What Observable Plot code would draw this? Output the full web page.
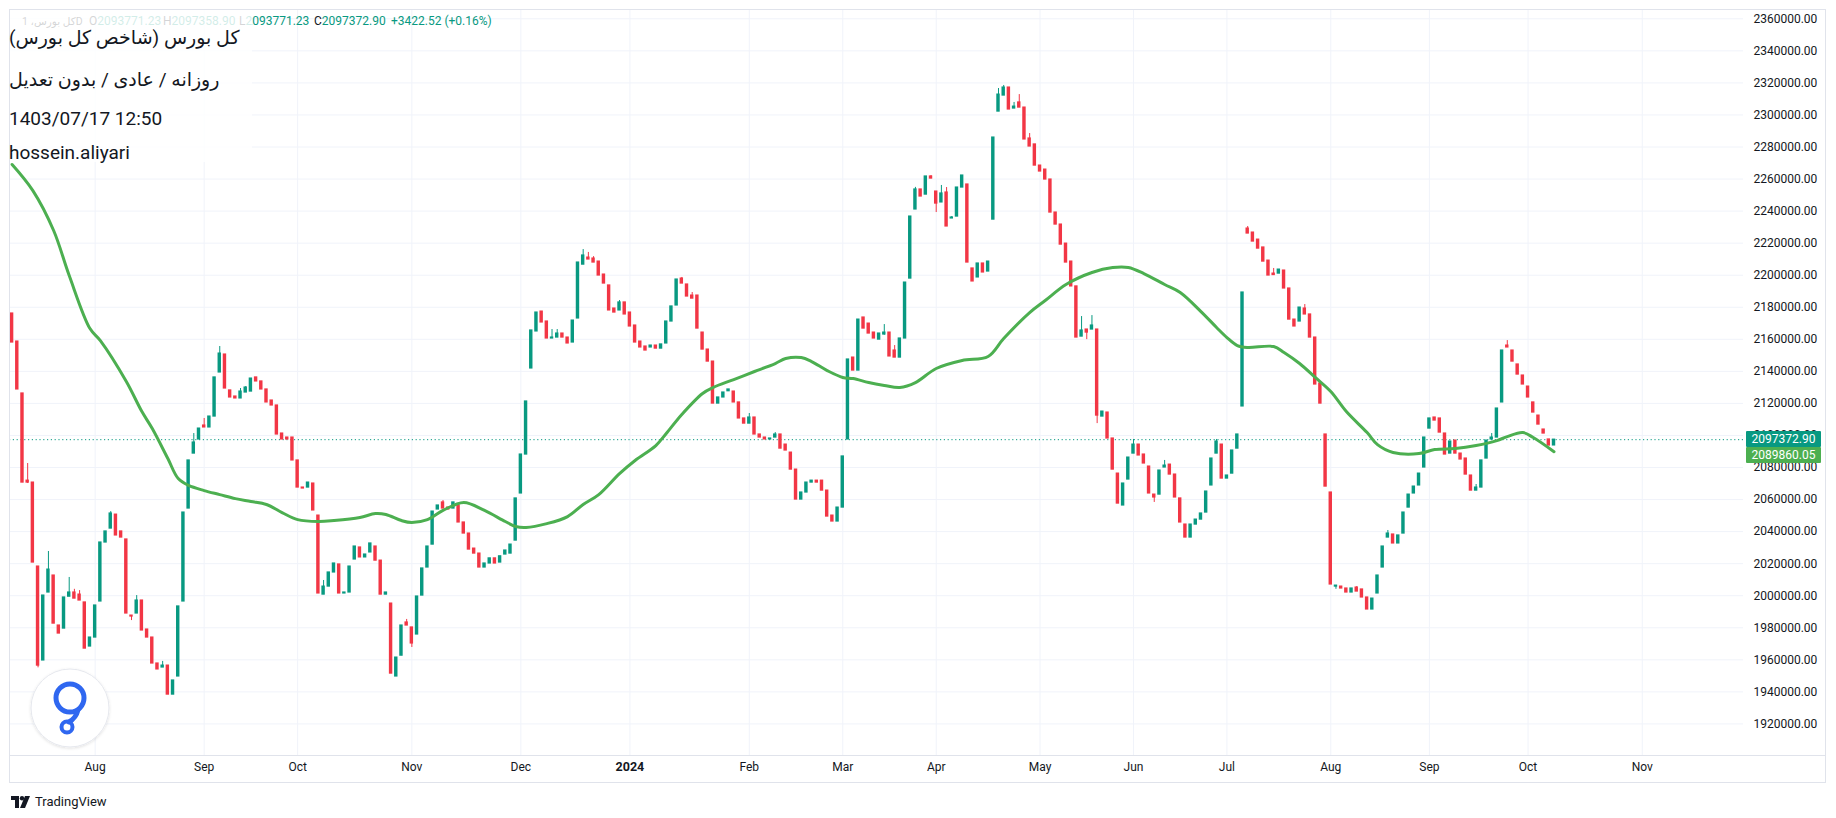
<!DOCTYPE html>
<html><head><meta charset="utf-8">
<script src="https://cdn.jsdelivr.net/npm/d3@7"></script>
<script src="https://cdn.jsdelivr.net/npm/@observablehq/plot@0.6"></script>
<style>
html,body{margin:0;padding:0;background:#fff;}
#wrap{position:relative;width:1836px;height:818px;overflow:hidden;font-family:Roboto,"Noto Sans","DejaVu Sans",sans-serif;color:#131722;}
#chart{position:absolute;left:0;top:0;}
.frame{position:absolute;left:9px;top:9px;width:1817px;height:774px;border:1px solid #e0e3eb;box-sizing:border-box;pointer-events:none;}
.sep{position:absolute;left:9px;top:755px;width:1817px;height:1px;background:#e0e3eb;}
.lg{position:absolute;top:15px;font-size:12px;line-height:13px;white-space:pre;}
.lg .v{color:#089981;}
.shade{position:absolute;left:10px;top:10px;width:242px;height:152px;background:rgba(255,255,255,0.82);}
.tl{position:absolute;left:9px;font-size:19px;line-height:20px;white-space:pre;color:#131722;}
.pb{position:absolute;left:1746px;width:75px;height:16px;color:#fff;font-size:12px;line-height:16px;text-align:center;border-radius:1px;}
.tv{position:absolute;left:11px;top:794px;font-size:13px;line-height:16px;color:#131722;display:flex;align-items:center;gap:4px;}
</style></head>
<body>
<div id="wrap">
  <div id="chart"></div>
  <div class="frame"></div>
  <div class="sep"></div>
</div>
<script>
// ---------- DATA ----------
// daily candles: [open, high, low, close], one row per trading bar (bar index = row index)
const ohlc = [
[2176100,2176100,2158000,2158000],[2158600,2158600,2128700,2128700],[2126200,2126200,2070600,2070600],[2071800,2082500,2070000,2070600],
[2070600,2070600,2020700,2020700],[2018200,2018200,1955000,1956400],[1959600,2000100,1959600,2000100],[2002000,2027600,2002000,2016300],
[2012600,2012600,1982600,1982600],[1981400,1981400,1976400,1976400],[1979500,1998900,1979500,1998900],[1999400,2011400,1999400,2002000],
[2002000,2004000,1998200,1998200],[2000700,2003200,1997000,1997000],[1995800,1995800,1967000,1967000],[1968300,1973900,1968300,1973900],
[1973900,1993900,1973900,1993900],[1996400,2033200,1996400,2033200],[2033200,2040100,2033200,2040100],[2041900,2052500,2041900,2051300],
[2050600,2050600,2037600,2037600],[2040100,2040100,2036300,2036300],[2035100,2035100,1988900,1988900],[1987600,1987600,1984500,1987000],
[1988900,2000100,1988900,1997000],[1997000,1997000,1978300,1978300],[1978900,1978900,1973900,1973900],[1973900,1973900,1957700,1957700],
[1957700,1957700,1954000,1954000],[1955200,1959000,1955200,1956400],[1956400,1956400,1938300,1938300],[1938300,1947100,1938300,1947100],
[1949600,1993300,1949600,1993300],[1996400,2051900,1996400,2051900],[2054400,2084400,2054400,2084400],[2088700,2101200,2088700,2095600],
[2097500,2104300,2097500,2104300],[2106200,2110600,2105000,2105000],[2105000,2111800,2105000,2111800],[2111800,2136200,2111800,2136200],
[2139300,2155500,2139300,2151100],[2150500,2150500,2129300,2129300],[2128100,2128100,2123700,2123700],[2124300,2124300,2123100,2123100],
[2123100,2129300,2123100,2127400],[2126800,2130500,2126800,2129900],[2127400,2135500,2127400,2135500],[2136200,2136200,2133700,2133700],
[2133700,2133700,2128700,2128700],[2128700,2128700,2120600,2120600],[2121800,2121800,2118700,2118700],[2118700,2118700,2100600,2100600],
[2101200,2101200,2097500,2097500],[2098700,2098700,2097500,2097500],[2098700,2098700,2084400,2084400],[2084400,2084400,2067500,2067500],
[2067500,2067500,2066900,2066900],[2067500,2070600,2067500,2070600],[2070000,2070000,2053200,2053200],[2050000,2050000,2001400,2001400],
[2000700,2009500,2000700,2005700],[2005700,2014500,2005700,2014500],[2014500,2020100,2014500,2020100],[2019500,2019500,2001400,2001400],
[2001400,2002000,2001400,2002000],[2002000,2018200,2002000,2018200],[2022600,2030700,2022600,2030700],[2030100,2030100,2023900,2023900],
[2023900,2025700,2023900,2025700],[2027000,2032600,2027000,2032600],[2030700,2030700,2021900,2021900],[2021900,2021900,2000700,2000700],
[2000700,2002000,2000700,2002000],[1995100,1995100,1951400,1951400],[1949600,1961400,1949600,1961400],[1962600,1981400,1962600,1981400],
[1983300,1985200,1981400,1981400],[1980200,1980200,1967700,1970200],[1975800,1999500,1975800,1999500],[2000100,2017000,2000100,2017000],
[2017600,2030700,2017600,2030700],[2031900,2052500,2031900,2052500],[2053800,2056300,2053800,2056300],[2058200,2059400,2054400,2054400],
[2055000,2055000,2053800,2053800],[2054400,2058200,2054400,2058200],[2056300,2056300,2045700,2045700],[2045700,2045700,2038800,2038800],
[2038800,2038800,2028800,2028800],[2029400,2029400,2026300,2026300],[2026300,2026300,2017600,2017600],[2017600,2020100,2017600,2020100],
[2020100,2023300,2020100,2023300],[2023300,2023300,2020100,2020100],[2020700,2024600,2020700,2024600],[2025700,2028200,2025700,2028200],
[2026300,2031900,2026300,2031900],[2034400,2060700,2034400,2060700],[2063800,2088100,2063800,2088100],[2088100,2121200,2088100,2121200],
[2141800,2165500,2141800,2165500],[2164900,2176700,2164900,2176700],[2177300,2177300,2170500,2170500],[2171100,2171100,2160500,2160500],
[2160500,2166100,2160500,2161100],[2161100,2166100,2161100,2163600],[2163600,2163600,2161100,2161100],[2161100,2161100,2157400,2157400],
[2158000,2171700,2158000,2171700],[2173000,2207900,2173000,2207900],[2206600,2216000,2206600,2212300],[2211000,2214200,2209800,2209800],
[2210400,2211600,2207900,2207900],[2208500,2208500,2199800,2199800],[2200400,2200400,2194800,2194800],[2193600,2193600,2178000,2178000],
[2179200,2179200,2176700,2176700],[2178000,2184200,2178000,2183000],[2183000,2183000,2175500,2175500],[2176700,2176700,2168000,2168000],
[2168600,2168600,2158000,2158000],[2158600,2158600,2154900,2154900],[2155500,2155500,2153000,2153000],[2154900,2156100,2154900,2156100],
[2156100,2156100,2154200,2154200],[2154200,2156800,2154200,2156800],[2157400,2171100,2157400,2171100],[2171100,2180500,2171100,2180500],
[2181100,2197300,2181100,2197300],[2197900,2198600,2194800,2194800],[2194200,2194200,2186700,2186700],[2187300,2189200,2185400,2185400],
[2187300,2187300,2166700,2166700],[2164200,2164200,2153600,2153600],[2153600,2153600,2146100,2146100],[2146100,2146100,2119900,2119900],
[2119900,2123700,2119900,2123700],[2123700,2126800,2123700,2126800],[2127600,2128700,2127600,2128700],[2127400,2127400,2120600,2120600],
[2120600,2120600,2110600,2110600],[2110600,2110600,2107400,2107400],[2107400,2113700,2107400,2111200],[2111200,2111200,2100600,2100600],
[2100600,2100600,2098700,2098700],[2098700,2098700,2097500,2097500],[2097500,2098100,2097500,2098100],[2098700,2101800,2098700,2100600],
[2100600,2100600,2091800,2091800],[2094300,2094300,2090600,2090600],[2089300,2089300,2078700,2078700],[2078700,2078700,2060000,2060000],
[2060000,2064400,2060000,2064400],[2064400,2070600,2064400,2070600],[2070600,2071800,2070600,2071800],[2071800,2071800,2070600,2070600],
[2071800,2071800,2065600,2065600],[2065600,2065600,2049400,2049400],[2050000,2050000,2046300,2046300],[2046300,2055000,2046300,2055000],
[2055000,2086900,2055000,2086900],[2097500,2147400,2097500,2147400],[2148600,2148600,2140500,2140500],[2140500,2172300,2140500,2172300],
[2173600,2173600,2166700,2166700],[2169800,2169800,2163600,2163600],[2164200,2164200,2160500,2160500],[2159800,2163600,2159800,2163600],
[2163000,2169200,2162500,2164200],[2164200,2164200,2149300,2149300],[2153000,2156100,2148600,2148600],[2148600,2160500,2148600,2160500],
[2160500,2195400,2160500,2195400],[2197900,2236600,2197900,2236600],[2241000,2254800,2241000,2253500],[2253500,2253500,2249100,2249100],
[2250300,2261600,2250300,2261600],[2261600,2262200,2260300,2260300],[2252200,2252200,2239100,2244700],[2245400,2256000,2245400,2251000],
[2251600,2254700,2230400,2230400],[2235400,2236600,2235400,2236000],[2236600,2254700,2236600,2254700],[2254700,2262200,2254700,2262200],
[2256600,2256600,2207900,2207900],[2204200,2204200,2196100,2196100],[2198600,2207300,2198600,2207300],[2207300,2207300,2201700,2201700],
[2202300,2208500,2202300,2208500],[2234700,2285900,2234700,2285900],[2302100,2316500,2302100,2312700],[2312100,2318400,2312100,2317100],
[2317100,2317100,2303400,2303400],[2304000,2307800,2304000,2305200],[2307800,2312700,2304600,2304600],[2304600,2304600,2284700,2284700],
[2285300,2288400,2280300,2280300],[2281600,2281600,2268400,2268400],[2268400,2268400,2264700,2264700],[2265900,2265900,2259700,2259700],
[2259700,2259700,2239100,2239100],[2239100,2239100,2231600,2231600],[2231600,2231600,2219100,2219100],[2219700,2219700,2207900,2207900],
[2208500,2208500,2193000,2193000],[2193000,2193000,2161100,2161100],[2161700,2174200,2161700,2165500],[2166100,2166100,2159800,2164200],
[2166100,2174800,2166100,2168600],[2166100,2166100,2107400,2112400],[2111800,2114900,2111800,2114900],[2114300,2114300,2098100,2098100],
[2098100,2098100,2078700,2078700],[2076200,2076200,2057500,2057500],[2056300,2070000,2056300,2070000],[2072500,2086200,2072500,2086200],
[2088700,2097500,2088700,2094300],[2094300,2094300,2087500,2087500],[2088100,2088100,2082500,2082500],[2080600,2080600,2063800,2063800],
[2063100,2063100,2058200,2061300],[2063100,2078100,2063100,2078100],[2080000,2084400,2080000,2081200],[2081800,2081800,2075600,2075600],
[2075600,2075600,2061300,2061300],[2060700,2060700,2045700,2045700],[2044400,2044400,2036300,2036300],[2036300,2044400,2036300,2044400],
[2044400,2047500,2044400,2047500],[2047500,2051300,2047500,2051300],[2051900,2065000,2051900,2065000],[2068800,2085600,2068800,2085600],
[2088700,2097500,2088700,2096200],[2094300,2094300,2073100,2073100],[2073100,2075000,2073100,2075000],[2076200,2090600,2076200,2090600],
[2091800,2100600,2091800,2100600],[2118100,2189200,2118100,2189200],[2229100,2230400,2226000,2226000],[2226600,2226600,2221000,2221000],
[2222200,2222200,2216600,2216600],[2217300,2217300,2208500,2208500],[2209100,2209100,2199800,2199800],[2201000,2204200,2200100,2200100],
[2201000,2203500,2201000,2203500],[2202900,2202900,2191700,2191700],[2191700,2191700,2172300,2172300],[2172300,2172300,2168000,2168000],
[2171100,2179800,2171100,2179800],[2179200,2181700,2175500,2175500],[2175500,2175500,2161100,2161100],[2161100,2161100,2131800,2131800],
[2132400,2132400,2119900,2119900],[2100600,2100600,2068100,2068100],[2064400,2064400,2007000,2007000],[2005700,2006300,2004000,2006300],
[2005700,2005700,2004500,2004500],[2004500,2004500,2002000,2002000],[2002000,2004500,2002000,2004500],[2005100,2005700,2002600,2002600],
[2003900,2003900,1998900,1998900],[1998900,1998900,1991400,1991400],[1991400,1998200,1991400,1998200],[2001400,2012600,2001400,2012600],
[2017600,2030700,2017600,2030700],[2036300,2040700,2036300,2038800],[2038200,2038200,2032600,2032600],[2032600,2037600,2032600,2037600],
[2038800,2051900,2038800,2051900],[2055000,2063100,2055000,2063100],[2063800,2068100,2063800,2068100],[2068800,2076200,2068800,2076200],
[2080000,2098700,2080000,2098700],[2104300,2110600,2104300,2110600],[2111200,2111200,2109300,2109300],[2110600,2110600,2101800,2101800],
[2101200,2101200,2088100,2088100],[2088700,2096200,2088700,2096200],[2096800,2096800,2088700,2088700],[2088700,2088700,2085000,2085000],
[2085600,2085600,2075600,2075600],[2075000,2075000,2065600,2065600],[2065600,2069400,2065600,2067500],[2067500,2084400,2067500,2084400],
[2085600,2096800,2085600,2096800],[2097500,2101200,2097500,2098700],[2098700,2116800,2098700,2116800],[2120600,2153000,2120600,2153000],
[2156100,2159200,2154900,2154900],[2153000,2153000,2146100,2146100],[2144300,2144300,2138000,2138000],[2137400,2137400,2131800,2131800],
[2130500,2130500,2123700,2123700],[2120600,2120600,2114300,2114300],[2112400,2112400,2106800,2106800],[2103700,2103700,2101200,2101200],
[2097500,2097500,2093700,2093700],[2093771.23,2097372.90,2093771.23,2097372.90]
];

// moving average (green line), read at bar indices
const maBars = [0,4,8,11,15,17,22,25,27,30,32,34,37,40,43,46,49,52,55,59,62,67,70,72,75,77,80,83,87,91,95,97,99,103,107,110,113,117,120,124,126,129,133,135,139,143,147,149,152,154,157,160,162,165,168,171,174,178,183,188,191,196,199,203,208,212,215,218,222,225,229,232,234,236,238,243,245,248,251,254,257,261,263,266,271,274,278,282,286,288,291,293,297];
const maValues = [2269100,2252800,2227900,2199800,2166700,2159200,2133700,2114900,2104300,2085600,2073100,2068800,2065600,2063100,2060600,2058800,2056900,2051900,2047500,2046300,2046900,2048800,2051300,2050700,2046900,2045700,2047500,2053200,2058200,2053200,2046300,2043200,2042600,2045000,2049400,2056900,2063100,2076200,2084400,2093700,2101200,2113100,2126200,2129900,2134900,2139900,2144900,2148000,2148600,2146100,2140500,2136200,2135500,2133000,2131200,2129900,2133000,2141800,2146800,2149300,2160500,2176700,2184200,2194200,2201700,2204800,2204800,2201000,2194200,2189200,2177300,2167400,2161100,2156100,2154900,2155500,2151800,2144900,2136200,2127400,2114900,2101800,2094300,2089400,2088700,2091200,2091800,2093700,2096800,2099300,2101800,2098700,2089860.05];

// x-axis month labels and the bar where each month begins
const monthLabels = ["Aug","Sep","Oct","Nov","Dec","2024","Feb","Mar","Apr","May","Jun","Jul","Aug","Sep","Oct","Nov"];
const monthBars = [16,37,55,77,98,119,142,160,178,198,216,234,254,273,292,314];

// y-axis ticks
const yTicks = [1920000,1940000,1960000,1980000,2000000,2020000,2040000,2060000,2080000,2100000,2120000,2140000,2160000,2180000,2200000,2220000,2240000,2260000,2280000,2300000,2320000,2340000,2360000];

const lastClose = 2097372.90;
const lastMA = 2089860.05;

// header texts
const titleLines = ["کل بورس (شاخص کل بورس)", "روزانه / عادی / بدون تعدیل", "1403/07/17 12:50", "hossein.aliyari"];
const legendSymbol = "کل بورس، 1D";
const legendItems = [["O","2093771.23"],["H","2097358.90"],["L","2093771.23"],["C","2097372.90"],["","+3422.52 (+0.16%)"]];

// ---------- CHART ----------
const UP = "#089981", DOWN = "#f23645", MA = "#4caf50", GRID = "#f0f3fa";
const candles = ohlc.map((r, i) => ({i, open: r[0], high: r[1], low: r[2], close: r[3]}));
const ma = maBars.map((b, k) => ({bar: b, value: maValues[k]}));
const months = monthLabels.map((l, k) => ({label: l, bar: monthBars[k]}));
const col = d => d.close >= d.open ? UP : DOWN;

const chart = Plot.plot({
  width: 1836, height: 818,
  marginLeft: 9, marginRight: 93, marginTop: 9, marginBottom: 63,
  x: {type: "linear", domain: [-0.5, 333.5], axis: null},
  y: {type: "linear", domain: [1900300, 2365800], axis: null},
  style: {background: "transparent", fontFamily: "Roboto, 'Noto Sans', sans-serif", overflow: "visible"},
  marks: [
    Plot.ruleY(yTicks, {stroke: GRID, strokeWidth: 1}),
    Plot.ruleX(monthBars, {stroke: GRID, strokeWidth: 1}),
    Plot.ruleY([lastClose], {stroke: UP, strokeWidth: 1, strokeDasharray: "1.2,2.6"}),
    Plot.ruleX(candles, {x: "i", y1: "low", y2: "high", stroke: col, strokeWidth: 1}),
    Plot.rect(candles, {x1: d => d.i - 0.33, x2: d => d.i + 0.33, y1: "open", y2: "close", fill: col, insetTop: -0.6, insetBottom: -0.6}),
    Plot.line(ma, {x: "bar", y: "value", stroke: MA, strokeWidth: 3, curve: "catmull-rom", strokeLinejoin: "round", strokeLinecap: "round"}),
    Plot.axisY(yTicks, {anchor: "right", tickSize: 0, tickPadding: 10, label: null, fontSize: 12, fill: "#131722", tickFormat: d => d.toFixed(2)}),
    Plot.text(months.filter(d => d.label !== "2024"), {x: "bar", text: "label", frameAnchor: "bottom", dy: 15, fontSize: 12, fill: "#131722"}),
    Plot.text(months.filter(d => d.label === "2024"), {x: "bar", text: "label", frameAnchor: "bottom", dy: 15, fontSize: 12.5, fontWeight: "bold", fill: "#131722"})
  ]
});
document.getElementById("chart").appendChild(chart);

const wrap = document.getElementById("wrap");
const ys = chart.scale("y");

// price boxes on the right axis
const yc = ys.apply(lastClose);
const ym = ys.apply(lastMA);
function box(text, bg, top) {
  const b = document.createElement("div");
  b.className = "pb"; b.style.background = bg; b.style.top = top + "px"; b.textContent = text;
  wrap.appendChild(b);
}
box(lastClose.toFixed(2), UP, yc - 8);
box(lastMA.toFixed(2), MA, Math.max(ym - 8, yc + 8));

// legend row (top)
const lgPos = [89, 163, 239, 314, 391];
const sym = document.createElement("div");
sym.className = "lg"; sym.style.left = "22px"; sym.style.fontSize = "10.5px"; sym.style.color = "#131722"; sym.textContent = legendSymbol;
wrap.appendChild(sym);
legendItems.forEach((it, k) => {
  const e = document.createElement("div");
  e.className = "lg"; e.style.left = lgPos[k] + "px";
  e.innerHTML = (it[0] ? `<span>${it[0]}</span>` : "") + `<span class="v">${it[1]}</span>`;
  wrap.appendChild(e);
});

// semi-transparent box behind the header text
const shade = document.createElement("div");
shade.className = "shade"; wrap.appendChild(shade);
const centers = [38, 80, 119, 153];
titleLines.forEach((t, k) => {
  const e = document.createElement("div");
  e.className = "tl"; e.style.top = (centers[k] - 10) + "px"; e.textContent = t;
  wrap.appendChild(e);
});

// watermark logo bottom-left
const ns = "http://www.w3.org/2000/svg";
const wm = document.createElementNS(ns, "svg");
wm.setAttribute("width", "100"); wm.setAttribute("height", "100");
wm.style.position = "absolute"; wm.style.left = "20px"; wm.style.top = "658px";
wm.innerHTML = `<defs><filter id="sh" x="-20%" y="-20%" width="140%" height="140%"><feDropShadow dx="0" dy="1" stdDeviation="1.5" flood-color="#000" flood-opacity="0.12"/></filter></defs>
<circle cx="50" cy="50" r="39" fill="#fff" stroke="#e6e8ee" stroke-width="1" filter="url(#sh)"/>
<circle cx="50" cy="40" r="14" fill="none" stroke="#2f67f0" stroke-width="5"/>
<path d="M58 52 Q 56 60 49 64" fill="none" stroke="#2f67f0" stroke-width="5" stroke-linecap="round"/>
<circle cx="47" cy="69" r="5.5" fill="none" stroke="#2f67f0" stroke-width="4"/>`;
wrap.appendChild(wm);

// TradingView mark bottom
const tv = document.createElement("div");
tv.className = "tv";
tv.innerHTML = `<svg width="20" height="12" viewBox="0 0 20 12"><path d="M0 0h8v12H4V4H0z" fill="#131722"/><circle cx="11" cy="2.2" r="2.2" fill="#131722"/><path d="M14 0h5l-5 12h-5z" fill="#131722"/></svg><span>TradingView</span>`;
wrap.appendChild(tv);
</script>
</body></html>
